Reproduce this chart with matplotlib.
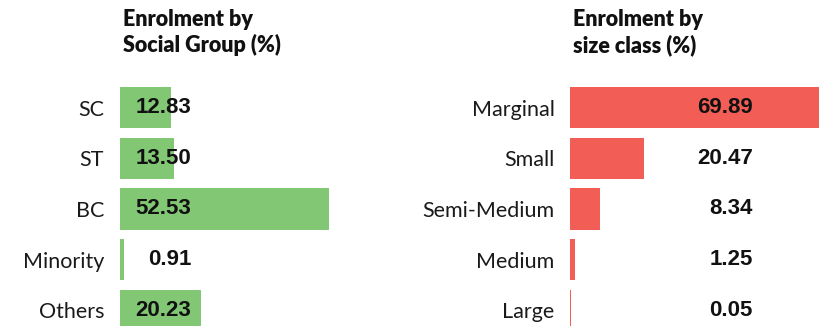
import matplotlib.pyplot as plt

# enrolment shares (%)
social_groups = ["SC", "ST", "BC", "Minority", "Others"]
social_values = [12.83, 13.50, 52.53, 0.91, 20.23]

size_classes = ["Marginal", "Small", "Semi-Medium", "Medium", "Large"]
size_values = [69.89, 20.47, 8.34, 1.25, 0.05]

W, H = 820, 326
fig = plt.figure(figsize=(W / 100, H / 100), dpi=100)

label_font = ["Lato", "DejaVu Sans"]
value_font = ["Liberation Sans", "DejaVu Sans"]

# row layout in pixels: first row centre 107.5 px from top, pitch 50.75 px
pitch = 50.75
ax_h = 240
row0 = H - 107.5
ylim_top = -(ax_h - row0) / pitch
ylim_bot = 4 + (H - 310.5) / pitch


def panel(x0, x1, xmax, cats, vals, color, label_x, title):
    ax = fig.add_axes([x0 / W, 0, (x1 - x0) / W, ax_h / H])
    y = range(len(cats))
    ax.barh(y, vals, height=0.81, color=color, linewidth=0)
    ax.set_xlim(0, xmax)
    ax.set_ylim(ylim_bot, ylim_top)
    ax.set_yticks(list(y))
    ax.set_yticklabels(cats, fontfamily=label_font, fontsize=15.5, color="#1a1a1a")
    ax.tick_params(axis="y", length=0, pad=11.5)
    ax.set_xticks([])
    for s in ax.spines.values():
        s.set_visible(False)
    ax.patch.set_visible(False)
    for i, v in enumerate(vals):
        ax.text(label_x, i, f"{v:.2f}", ha="right", va="center",
                fontfamily=value_font, fontweight="bold", fontsize=16,
                color="#111111")
    fig.text((x0 + 3) / W, 1 - 9 / H, title, ha="left", va="top",
             fontfamily=label_font, fontweight="heavy", fontsize=15.5,
             linespacing=1.22, color="#111111")
    return ax


# left panel: 3.98 px per percent, right panel: 3.57 px per percent
panel(120, 400, 280 / 3.98, social_groups, social_values, "#82c874",
      (191.5 - 120) / 3.98, "Enrolment by\nSocial Group (%)")
panel(570.5, 820, 69.89, size_classes, size_values, "#f25d55",
      (753 - 570.5) / 3.57, "Enrolment by\nsize class (%)")

fig.savefig("out.png", dpi=100)
